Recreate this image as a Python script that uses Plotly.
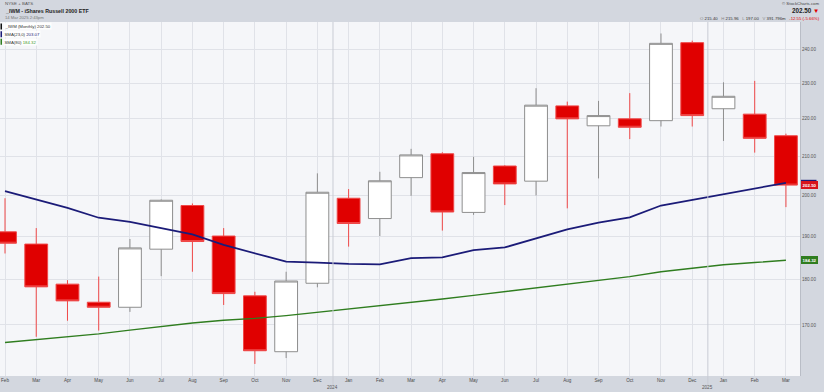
import numpy as np
import plotly.graph_objects as go

# ---------------- data ----------------
months = ["2023-02", "2023-03", "2023-04", "2023-05", "2023-06", "2023-07", "2023-08",
          "2023-09", "2023-10", "2023-11", "2023-12", "2024-01", "2024-02", "2024-03",
          "2024-04", "2024-05", "2024-06", "2024-07", "2024-08", "2024-09", "2024-10",
          "2024-11", "2024-12", "2025-01", "2025-02", "2025-03"]
month_labels = ["Feb", "Mar", "Apr", "May", "Jun", "Jul", "Aug", "Sep", "Oct", "Nov", "Dec",
                "Jan", "Feb", "Mar", "Apr", "May", "Jun", "Jul", "Aug", "Sep", "Oct", "Nov",
                "Dec", "Jan", "Feb", "Mar"]
open_ = [191.0, 188.1, 178.9, 174.9, 173.8, 186.9, 197.4, 190.0, 176.3, 164.4, 179.1,
         199.2, 194.2, 204.4, 210.6, 195.7, 207.4, 203.5, 223.6, 218.1, 220.0, 219.5,
         242.0, 222.8, 221.3, 215.40]
high = [199.2, 191.9, 179.8, 180.6, 189.3, 198.9, 197.9, 191.9, 177.2, 181.7, 205.5,
        201.5, 205.9, 211.9, 211.0, 209.8, 207.6, 228.6, 224.8, 225.0, 227.2, 244.8,
        242.6, 230.3, 230.7, 215.96]
low = [185.9, 167.5, 170.9, 168.8, 172.8, 180.7, 181.7, 174.3, 161.9, 163.1, 178.2,
       187.5, 190.0, 199.8, 191.3, 195.1, 197.5, 199.9, 196.7, 204.2, 214.5, 217.9,
       217.9, 214.0, 210.9, 197.00]
close = [188.3, 178.3, 175.2, 173.8, 187.2, 198.7, 188.7, 176.8, 164.6, 179.6, 200.7,
         193.0, 203.6, 210.3, 195.8, 205.7, 202.8, 223.8, 220.0, 220.9, 217.7, 241.8,
         220.9, 226.3, 214.7, 202.50]
sma23 = [201.0, 198.8, 196.8, 194.4, 193.4, 191.9, 190.4, 187.9, 185.9, 184.0, 183.8,
         183.5, 183.4, 184.8, 185.0, 186.7, 187.3, 189.4, 191.6, 193.2, 194.5, 197.4,
         198.8, 200.2, 201.6, 203.07]
sma80 = [166.3, 166.9, 167.5, 168.1, 168.9, 169.7, 170.4, 171.0, 171.4, 172.0, 172.7,
         173.4, 174.1, 174.8, 175.6, 176.4, 177.2, 178.1, 178.9, 179.7, 180.6, 181.7,
         182.5, 183.3, 183.8, 184.32]
price_ticks = [170, 180, 190, 200, 210, 220, 230, 240]
year_breaks = [("2024", 10.5), ("2025", 22.5)]

# ---------------- figure ----------------
W, H = 824, 392
ML, MR, MT, MB = 0, 24, 22, 16
FONT = "Liberation Sans, Arial, sans-serif"


def px(x):
    return (x - ML) / (W - ML - MR)


def py(y):
    return (H - MB - y) / (H - MT - MB)


fig = go.Figure()
fig.add_trace(go.Candlestick(
    x=months, open=open_, high=high, low=low, close=close,
    increasing=dict(fillcolor="#ffffff", line=dict(color="#8e8e8e", width=1)),
    decreasing=dict(fillcolor="#e00000", line=dict(color="#f04848", width=1)),
    whiskerwidth=0, hoverinfo="skip", showlegend=False))
fig.add_trace(go.Scatter(x=months, y=sma80, mode="lines",
                         line=dict(color="#2f7d1f", width=1.4),
                         hoverinfo="skip", showlegend=False))
fig.add_trace(go.Scatter(x=months, y=sma23, mode="lines",
                         line=dict(color="#1b1b78", width=1.8),
                         hoverinfo="skip", showlegend=False))

shapes = []
annotations = []
for label, pos in year_breaks:
    shapes.append(dict(type="line", xref="x", yref="paper", x0=pos, x1=pos,
                       y0=py(385), y1=1, line=dict(color="#c9ccd4", width=1)))
    annotations.append(dict(text=label, xref="x", yref="paper", x=pos, y=py(387.5),
                            showarrow=False, font=dict(size=4.6, color="#555", family=FONT)))

# header
annotations += [
    dict(text="NYSE + BATS", x=px(3), y=py(4), xanchor="left"),
    dict(text="<b>_IWM - iShares Russell 2000 ETF</b>", x=px(3), y=py(11), xanchor="left",
         font=dict(size=5.3, color="#222", family=FONT)),
    dict(text="14 Mar 2025 2:43pm", x=px(3), y=py(17.8), xanchor="left",
         font=dict(size=4.2, color="#777", family=FONT)),
    dict(text="© StockCharts.com", x=px(821), y=py(3.2), xanchor="right",
         font=dict(size=4.3, color="#444", family=FONT)),
    dict(text="<b>202.50</b> <span style='color:#e00000'>▼</span>", x=px(821), y=py(10.7),
         xanchor="right", font=dict(size=6.3, color="#222", family=FONT)),
    dict(text="<span style='color:#888'>O</span> 215.40   <span style='color:#888'>H</span> 215.96"
              "   <span style='color:#888'>L</span> 197.00   <span style='color:#888'>V</span> 391.796m"
              "   <span style='color:#e00000'>-12.55 (-5.66%)</span>",
         x=px(822), y=py(18.7), xanchor="right",
         font=dict(size=4.3, color="#333", family=FONT)),
]

# legend
legend_rows = [("_IWM (Monthly)", "202.50", "#111111", "#333333", 26.5),
               ("SMA(23,0)", "203.07", "#1b1b78", "#1b1b78", 34.2),
               ("SMA(80)", "184.32", "#2f7d1f", "#3e9a2a", 41.7)]
for name, val, bar, vcol, y in legend_rows:
    shapes.append(dict(type="rect", xref="paper", yref="paper", x0=px(0.5), x1=px(2),
                       y0=py(y + 3), y1=py(y - 3), fillcolor=bar, line=dict(width=0)))
    annotations.append(dict(text=f"{name} <span style='color:{vcol}'>{val}</span>",
                            x=px(3), y=py(y), xanchor="left",
                            bgcolor="rgba(255,255,255,0.85)", borderpad=0.5,
                            font=dict(size=4.3, color="#333", family=FONT)))

# price tags on right axis (the SMA(23) tag sits mostly behind the close tag)
shapes.append(dict(type="rect", xref="paper", yref="paper", x0=px(801), x1=px(816.5),
                   y0=py(184), y1=py(179.8), fillcolor="#1b1b78", line=dict(width=0)))
for val, col in [(202.50, "#d8121c"), (184.32, "#2f7d1f")]:
    annotations.append(dict(text=f"<b>{val:.2f}</b>", xref="paper", yref="y", x=1,
                            y=np.log10(val), xanchor="left", xshift=1,
                            bgcolor=col, bordercolor=col, borderpad=0.6,
                            font=dict(size=4.4, color="#ffffff", family=FONT)))

for a in annotations:
    a.setdefault("xref", "paper")
    a.setdefault("yref", "paper")
    a.setdefault("showarrow", False)
    a.setdefault("yanchor", "middle")
    a.setdefault("font", dict(size=4.4, color="#555", family=FONT))

fig.update_layout(
    width=W, height=H,
    margin=dict(l=ML, r=MR, t=MT, b=MB, pad=0),
    paper_bgcolor="#d3d7df", plot_bgcolor="#f5f6f9",
    font=dict(family=FONT),
    boxgap=0.27, boxgroupgap=0,
    shapes=shapes, annotations=annotations,
    xaxis=dict(type="category", range=[-0.16, 25.45], tickvals=months, ticktext=month_labels,
               showgrid=True, gridcolor="#e0e2e8", gridwidth=1, zeroline=False,
               ticks="", showline=False, rangeslider=dict(visible=False),
               tickfont=dict(size=4.6, color="#4a4a4a", family=FONT)),
    yaxis=dict(type="log", range=[np.log10(159.48), np.log10(248.34)], side="right",
               tickvals=price_ticks, ticktext=[f"{t:.2f}" for t in price_ticks],
               showgrid=True, gridcolor="#e0e2e8", gridwidth=1, zeroline=False,
               ticks="", showline=True, linecolor="#b9bdc6", linewidth=1,
               tickfont=dict(size=4.6, color="#555", family=FONT)),
    hovermode=False,
)

fig.write_html("out.html", config={"displayModeBar": False},
               post_script="document.body.style.margin='0px';")
